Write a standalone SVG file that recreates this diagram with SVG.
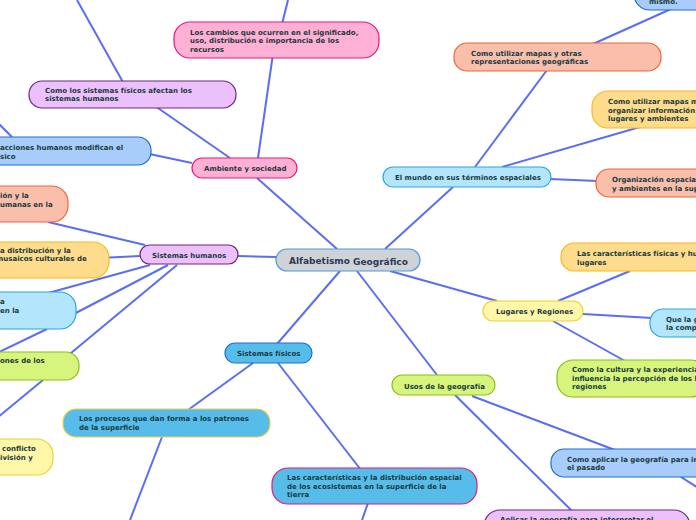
<svg xmlns="http://www.w3.org/2000/svg" width="696" height="520" viewBox="0 0 696 520">
<style>
text{font-family:"DejaVu Sans",Verdana,sans-serif;font-weight:bold;font-size:7px;fill:#1a3a40}
.c{font-size:9px;fill:#2b3857}
rect{stroke-width:1.2}
.pink{fill:#ffb0d4;stroke:#e8177a}
.vio{fill:#ebc0fb;stroke:#6c2a7a}
.lb{fill:#b3e5fc;stroke:#2aa6e0}
.bl{fill:#a9cdfa;stroke:#1f6ed4}
.sal{fill:#f9bfaa;stroke:#f0643a}
.or{fill:#fedc8c;stroke:#f8b81c}
.ye{fill:#fff7a8;stroke:#e8d23c}
.gr{fill:#d7f57c;stroke:#8cbf18}
.sky{fill:#56bdeb}
.gray{fill:#cfd3d8;stroke:#4e9ad6}
#connectors line{stroke:#5a6ef2;stroke-width:2;fill:none}
</style>
<g id="connectors">
<line x1="337" y1="249" x2="257" y2="178"/>
<line x1="385" y1="249" x2="453" y2="187"/>
<line x1="238" y1="256" x2="277" y2="257"/>
<line x1="390" y1="271" x2="497" y2="301"/>
<line x1="340" y1="271" x2="277" y2="344"/>
<line x1="357" y1="271" x2="437" y2="375"/>
<line x1="258" y1="158" x2="275" y2="40"/>
<line x1="278" y1="40" x2="288" y2="0"/>
<line x1="230" y1="158" x2="155" y2="106"/>
<line x1="124" y1="84" x2="77" y2="0"/>
<line x1="192" y1="163" x2="140" y2="152"/>
<line x1="12" y1="137" x2="-2" y2="123"/>
<line x1="145" y1="245" x2="48" y2="222"/>
<line x1="140" y1="256" x2="100" y2="258"/>
<line x1="150" y1="265" x2="30" y2="298"/>
<line x1="168" y1="265" x2="70" y2="316"/>
<line x1="177" y1="265" x2="65" y2="358"/>
<line x1="47" y1="329" x2="-5" y2="354"/>
<line x1="43" y1="380" x2="-3" y2="418"/>
<line x1="253" y1="363" x2="188" y2="410"/>
<line x1="162" y1="437" x2="130" y2="520"/>
<line x1="278" y1="363" x2="361" y2="470"/>
<line x1="368" y1="503" x2="362" y2="520"/>
<line x1="472" y1="396" x2="615" y2="450"/>
<line x1="681" y1="477" x2="700" y2="489"/>
<line x1="455" y1="395" x2="572" y2="511"/>
<line x1="558" y1="301" x2="630" y2="271"/>
<line x1="583" y1="314" x2="652" y2="318"/>
<line x1="553" y1="321" x2="625" y2="361"/>
<line x1="475" y1="167" x2="547" y2="70"/>
<line x1="593" y1="44" x2="671" y2="9"/>
<line x1="502" y1="167" x2="640" y2="127"/>
<line x1="550" y1="179" x2="598" y2="181"/>
</g>
<g id="center"><rect class="gray" x="276" y="249" width="144" height="22" rx="11"/><text class="c" x="289" y="263.5">Alfabetismo<tspan dy="1.5"> Geográfico</tspan></text></g>
<g id="ambiente"><rect class="pink" x="192" y="158" width="105" height="20" rx="10"/><text x="204" y="171">Ambiente y sociedad</text></g>
<g id="mundo"><rect class="lb" x="383" y="167" width="168" height="20" rx="10"/><text x="395" y="180">El mundo en sus términos espaciales</text></g>
<g id="humanos"><rect class="vio" x="140" y="245" width="98" height="19" rx="9.5"/><text x="152" y="257.5">Sistemas humanos</text></g>
<g id="lugares"><rect class="ye" x="483" y="301" width="100" height="20" rx="10"/><text x="496" y="314">Lugares y Regiones</text></g>
<g id="fisicos"><rect class="sky" stroke="#1f6ed4" x="225" y="343" width="87" height="20" rx="10"/><text x="237" y="356">Sistemas físicos</text></g>
<g id="usos"><rect class="gr" x="392" y="375" width="103" height="20" rx="10"/><text x="404" y="389">Usos de la geografía</text></g>
<g id="cambios"><rect class="pink" x="174" y="22" width="205" height="36" rx="16"/><text x="190" y="34.5">Los cambios que ocurren en el significado,</text><text x="190" y="43">uso, distribución e importancia de los</text><text x="190" y="51.5">recursos</text></g>
<g id="afectan"><rect class="vio" x="29" y="81" width="207" height="27" rx="13"/><text x="45" y="92.5">Como los sistemas físicos afectan los</text><text x="45" y="101">sistemas humanos</text></g>
<g id="acciones"><rect class="bl" x="-60" y="137" width="211" height="28" rx="13"/><text x="0" y="150">acciones humanos modifican el</text><text x="0" y="158.5">sico</text></g>
<g id="salmon"><rect class="sal" x="-140" y="186" width="208" height="36" rx="16"/><text x="0" y="198">ión y la</text><text x="0" y="206.5">umanas en la</text></g>
<g id="mosaicos"><rect class="or" x="-100" y="242" width="209" height="36" rx="16"/><text x="0" y="252.5">a distribución y la</text><text x="-4" y="261">musaicos culturales de</text></g>
<g id="azul"><rect class="lb" x="-130" y="292" width="206" height="37" rx="16"/><text x="0" y="304">a</text><text x="0" y="312.5">en la</text></g>
<g id="verde"><rect class="gr" x="-130" y="352" width="209" height="28" rx="13"/><text x="0" y="363">ones de los</text></g>
<g id="conflicto"><rect class="ye" x="-150" y="439" width="203" height="36" rx="16"/><text x="2" y="451">conflicto</text><text x="0" y="459.5">ivisión y</text></g>
<g id="procesos"><rect class="sky" stroke="#eed23c" x="63" y="409" width="207" height="28" rx="13"/><text x="79" y="421">Los procesos que dan forma a los patrones</text><text x="79" y="429.5">de la superficie</text></g>
<g id="ecosistemas"><rect class="sky" stroke="#e8177a" x="272" y="468" width="205" height="36" rx="16"/><text x="287" y="480">Las características y la distribución espacial</text><text x="287" y="488.5">de los ecosistemas en la superficie de la</text><text x="287" y="497">tierra</text></g>
<g id="aplicar"><rect class="bl" x="551" y="449" width="200" height="28" rx="13"/><text x="567" y="461.5">Como aplicar la geografía para in</text><text x="567" y="470">el pasado</text></g>
<g id="interpretar"><rect class="vio" x="484" y="510" width="206" height="40" rx="16"/><text x="500" y="522">Aplicar la geografía para interpretar el</text></g>
<g id="mapas"><rect class="sal" x="454" y="43" width="207" height="28" rx="13"/><text x="471" y="55.5">Como utilizar mapas y otras</text><text x="471" y="64">representaciones geográficas</text></g>
<g id="mismo"><rect class="bl" x="634" y="-30" width="100" height="40" rx="16"/><text x="649" y="4">mismo.</text></g>
<g id="organizar"><rect class="or" x="592" y="91" width="150" height="37" rx="16"/><text x="608" y="104">Como utilizar mapas m</text><text x="608" y="112.5">organizar información</text><text x="608" y="121">lugares y ambientes</text></g>
<g id="organizacion"><rect class="sal" x="596" y="169" width="150" height="28" rx="13"/><text x="612" y="182">Organización espacial</text><text x="612" y="190.5">y ambientes en la sup</text></g>
<g id="caracteristicas"><rect class="or" x="561" y="243" width="150" height="28" rx="13"/><text x="577" y="256">Las características físicas y hu</text><text x="577" y="264.5">lugares</text></g>
<g id="quela"><rect class="lb" x="650" y="309" width="100" height="28" rx="13"/><text x="666" y="321.5">Que la g</text><text x="666" y="330">la comp</text></g>
<g id="cultura"><rect class="gr" x="557" y="360" width="150" height="37" rx="16"/><text x="572" y="372">Como la cultura y la experiencia</text><text x="572" y="380.5">influencia la percepción de los l</text><text x="572" y="389">regiones</text></g>
</svg>
